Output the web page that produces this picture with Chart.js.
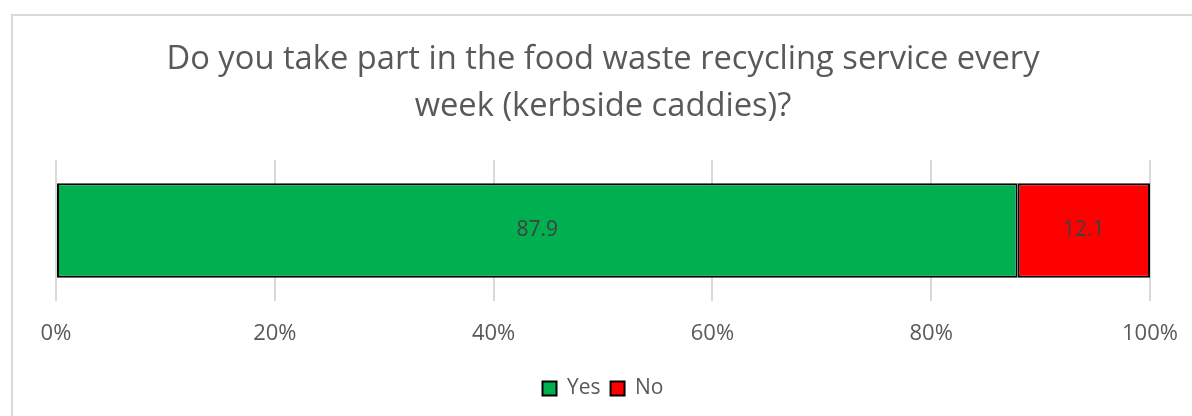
<!DOCTYPE html>
<html>
<head>
<meta charset="utf-8">
<script src="https://cdn.jsdelivr.net/npm/chart.js@4/dist/chart.umd.min.js"></script>
<style>
  html, body { margin: 0; padding: 0; background: #ffffff; }
  #wrap { position: relative; width: 1192px; height: 416px; overflow: hidden; background: #fff; }
  #frame { position: absolute; left: 11px; top: 14px; width: 1300px; height: 600px; border: 2px solid #d9d9d9; box-sizing: border-box; }
  #c { position: absolute; left: 0; top: 0; }
</style>
</head>
<body>
<div id="wrap">
  <div id="frame"></div>
  <canvas id="c" width="1192" height="416"></canvas>
</div>
<script>
const titleLines = ['Do you take part in the food waste recycling service every', 'week (kerbside caddies)?'];
const categories = ['Response'];
const seriesNames = ['Yes', 'No'];
const yesValues = [87.9];
const noValues = [12.1];
const tickValues = [0, 20, 40, 60, 80, 100];

const FONT = "'Open Sans', 'Noto Sans', sans-serif";
const TEXT = '#595959';

const dataLabels = {
  id: 'dataLabels',
  afterDatasetsDraw(chart) {
    const ctx = chart.ctx;
    ctx.save();
    ctx.font = '21px ' + FONT;
    ctx.fillStyle = '#404040';
    ctx.textAlign = 'center';
    ctx.textBaseline = 'middle';
    chart.data.datasets.forEach((ds, i) => {
      const meta = chart.getDatasetMeta(i);
      meta.data.forEach((el, j) => {
        const p = el.getProps(['x', 'y', 'base'], true);
        const cx = (p.x + p.base) / 2;
        ctx.fillText(String(ds.data[j]), cx, p.y);
      });
    });
    ctx.restore();
  }
};

new Chart(document.getElementById('c'), {
  type: 'bar',
  data: {
    labels: categories,
    datasets: [
      { label: seriesNames[0], data: yesValues, backgroundColor: '#00b050', borderColor: '#000000', borderWidth: 2, borderSkipped: false },
      { label: seriesNames[1], data: noValues, backgroundColor: '#ff0000', borderColor: '#000000', borderWidth: 2, borderSkipped: false }
    ]
  },
  options: {
    indexAxis: 'y',
    responsive: false,
    animation: false,
    layout: { padding: { left: 56, right: 42, top: 36, bottom: 7 } },
    datasets: { bar: { categoryPercentage: 1, barPercentage: 0.67 } },
    scales: {
      x: {
        stacked: true,
        min: 0, max: 100,
        afterBuildTicks(scale) { scale.ticks = tickValues.map(v => ({ value: v })); },
        afterFit(scale) { scale.height = 67; scale.paddingLeft = 0; scale.paddingRight = 0; },
        grid: { color: '#d9d9d9', lineWidth: 2, drawTicks: false },
        border: { display: false },
        ticks: {
          padding: 20,
          color: TEXT,
          font: { family: FONT, size: 22 },
          callback: v => v + '%'
        }
      },
      y: {
        stacked: true,
        display: false
      }
    },
    plugins: {
      title: {
        display: true,
        text: titleLines,
        color: TEXT,
        font: { family: FONT, size: 32.7, weight: 'normal', lineHeight: 1.437 },
        padding: { top: 0, bottom: 30 }
      },
      legend: {
        position: 'bottom',
        labels: {
          color: TEXT,
          font: { family: FONT, size: 21 },
          boxWidth: 14,
          boxHeight: 14,
          padding: 10,
          generateLabels(chart) {
            return chart.data.datasets.map((ds, i) => ({
              text: ds.label,
              fillStyle: ds.backgroundColor,
              strokeStyle: '#000000',
              lineWidth: 2,
              fontColor: TEXT,
              datasetIndex: i,
              hidden: false
            }));
          }
        }
      },
      tooltip: { enabled: false }
    }
  },
  plugins: [dataLabels]
});
</script>
</body>
</html>
